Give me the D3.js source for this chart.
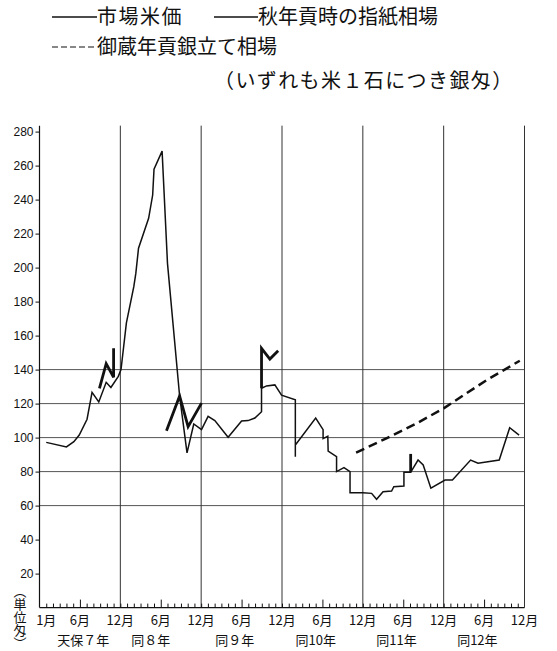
<!DOCTYPE html>
<html><head><meta charset="utf-8">
<script src="https://cdn.jsdelivr.net/npm/d3@7"></script>
<style>
html,body{margin:0;padding:0;background:#fff;}
svg{display:block;}
</style></head>
<body>
<script>
// ---- data (month index: 0 = 天保7年1月) ----
const marketPrice = [[0,97.2],[3.0,94.5],[4.1,97.6],[4.9,101.5],[6.06,110.8],[6.8,126.6],[7.8,121],[8.9,132.5],[9.6,129.5],[10.7,136],[11.1,140],[11.9,167.5],[13.0,188.8],[13.3,196.6],[13.7,211.4],[15.2,229],[15.8,242.7],[16.0,257.9],[17.2,268.5],[18.0,202.5],[19.8,124.5],[20.9,91],[21.9,108],[23.05,104.7],[24.03,112.5],[25.03,110],[27.0,100.2],[29.0,109.8],[29.97,110],[30.97,111.5],[31.96,115.2],[31.96,129],[32.7,130.4],[33.94,131],[34.93,125],[36.98,122.3],[36.98,88.8],[36.98,95.6],[40.0,111.5],[41.1,104.7],[41.1,99.4],[41.8,100.8],[41.85,92.1],[43.1,88.8],[43.1,80],[44.2,82.3],[45.1,80],[45.1,67.6],[47.0,67.6],[48.3,67.2],[49.04,63.7],[50.0,68.2],[51.27,68.6],[51.6,71.1],[53.1,71.5],[53.1,79.6],[54.1,79.6],[55.2,86.8],[55.96,83.9],[57.1,70.2],[59.2,75],[60.3,75],[63.0,86.8],[64.1,84.9],[67.25,86.8],[68.8,105.8],[70.2,101.5]];
const sashigami7 = [[7.9,129],[8.9,143.5],[10.0,135.5],[10.0,152.5]];
const sashigami8 = [[17.85,104],[19.8,124.5],[21.06,106.4],[23.05,120.3]];
const sashigami9 = [[31.96,129],[31.96,152.5],[33.2,146.2],[34.43,151.1]];
const sashigami11 = [[54.1,90.4],[54.1,79.6]];
const okuraGin = [[46.0,91.1],[50.5,99.6],[55.0,108.4],[59.0,117.2],[65.4,133.9],[70.3,145.2]];

const yTicks = [20,40,60,80,100,120,140,160,180,200,220,240,260,280];
const hGrid = [60,80,100,120,140];
const yearEnds = [11,23,35,47,59,71];
const monthLabelMonths = [0,5,11,17,23,29,35,41,47,53,59,65,71];
const monthLabels = ["1月","6月","12月","6月","12月","6月","12月","6月","12月","6月","12月","6月","12月"];
const yearLabelMonths = [5.5,15.5,28,40,52,64];
const yearLabels = ["天保７年","同８年","同９年","同10年","同11年","同12年"];
const legendItems = ["市場米価","秋年貢時の指紙相場","御蔵年貢銀立て相場"];
const noteText = "（いずれも米１石につき銀匁）";
const unitText = "（単位匁）";

// ---- drawing ----
const W = 557, H = 651;
const svg = d3.select("body").append("svg").attr("width", W).attr("height", H);
svg.append("rect").attr("width", W).attr("height", H).attr("fill", "#fff");
const ink = "#111";
const jp = "'Noto Sans CJK JP', sans-serif";

const x = d3.scaleLinear().domain([-1, 71]).range([39.5, 524.5]);
const y = d3.scaleLinear().domain([0, 280]).range([607.6, 131.6]);
const yTop = y(283.5);

// horizontal grid
svg.append("g").selectAll("line").data(hGrid).join("line")
  .attr("x1", x(-1)).attr("x2", x(71))
  .attr("y1", d => y(d)).attr("y2", d => y(d))
  .attr("stroke", "#555").attr("stroke-width", 1);

// vertical year lines
svg.append("g").selectAll("line").data(yearEnds).join("line")
  .attr("x1", d => x(d)).attr("x2", d => x(d))
  .attr("y1", yTop).attr("y2", y(0))
  .attr("stroke", "#333").attr("stroke-width", 1);

// y axis
svg.append("line").attr("x1", x(-1)).attr("x2", x(-1)).attr("y1", yTop).attr("y2", y(0))
  .attr("stroke", ink).attr("stroke-width", 1.2);
const yAxis = svg.append("g").attr("transform", `translate(${x(-1)},0)`)
  .call(d3.axisLeft(y).tickValues(yTicks).tickSize(4).tickPadding(2));
yAxis.select(".domain").remove();
yAxis.selectAll("line").attr("stroke", ink);
yAxis.selectAll("text").attr("font-family", "'Liberation Sans', Arial, sans-serif")
  .attr("font-size", 12).attr("fill", ink);

// x axis baseline + monthly ticks
svg.append("line").attr("x1", x(-1)).attr("x2", x(71)).attr("y1", y(0)).attr("y2", y(0))
  .attr("stroke", ink).attr("stroke-width", 1.2);
const xTicks = svg.append("g").attr("transform", `translate(0,${y(0)})`)
  .call(d3.axisTop(x).tickValues(d3.range(0, 71)).tickSize(4).tickFormat(""));
xTicks.select(".domain").remove();
xTicks.selectAll(".tick line").attr("stroke", ink)
  .attr("y2", d => (d % 12 === 5 ? -8 : -4));

// month labels
svg.append("g").selectAll("text").data(monthLabelMonths).join("text")
  .attr("x", d => x(d)).attr("y", 624.5)
  .attr("text-anchor", "middle").attr("font-family", jp).attr("font-size", 13)
  .attr("fill", ink).text((d, i) => monthLabels[i]);

// year labels
svg.append("g").selectAll("text").data(yearLabelMonths).join("text")
  .attr("x", d => x(d)).attr("y", 645)
  .attr("text-anchor", "middle").attr("font-family", jp).attr("font-size", 13)
  .attr("fill", ink).text((d, i) => yearLabels[i]);

// unit label (vertical)
svg.append("text").attr("x", 20).attr("y", 585)
  .attr("font-family", jp).attr("font-size", 13).attr("fill", ink)
  .style("writing-mode", "vertical-rl")
  .text(unitText);

// series
const line = d3.line().x(d => x(d[0])).y(d => y(d[1]));
svg.append("path").datum(marketPrice).attr("d", line)
  .attr("fill", "none").attr("stroke", ink).attr("stroke-width", 1.5).attr("stroke-linejoin", "miter");
[sashigami7, sashigami8, sashigami9, sashigami11].forEach(seg => {
  svg.append("path").datum(seg).attr("d", line)
    .attr("fill", "none").attr("stroke", ink).attr("stroke-width", 2.8).attr("stroke-linejoin", "miter");
});
svg.append("path").datum(okuraGin).attr("d", line)
  .attr("fill", "none").attr("stroke", ink).attr("stroke-width", 2.5).attr("stroke-dasharray", "9,5");

// legend
const lg = svg.append("g");
lg.append("line").attr("x1", 52).attr("x2", 97).attr("y1", 17).attr("y2", 17).attr("stroke", ink).attr("stroke-width", 1.3);
lg.append("text").attr("x", 97).attr("y", 24).attr("font-family", jp).attr("font-size", 20)
  .attr("letter-spacing", 1.5).attr("fill", ink).text(legendItems[0]);
lg.append("line").attr("x1", 214).attr("x2", 258).attr("y1", 17).attr("y2", 17).attr("stroke", ink).attr("stroke-width", 1.3);
lg.append("text").attr("x", 258).attr("y", 24).attr("font-family", jp).attr("font-size", 20)
  .attr("fill", ink).text(legendItems[1]);
lg.append("line").attr("x1", 52).attr("x2", 97).attr("y1", 47).attr("y2", 47).attr("stroke", ink).attr("stroke-width", 1.2)
  .attr("stroke-dasharray", "6,3");
lg.append("text").attr("x", 97).attr("y", 54).attr("font-family", jp).attr("font-size", 20)
  .attr("fill", ink).text(legendItems[2]);
lg.append("text").attr("x", 214).attr("y", 88).attr("font-family", jp).attr("font-size", 20)
  .attr("letter-spacing", 1.4).attr("fill", ink).text(noteText);
</script>
</body></html>
